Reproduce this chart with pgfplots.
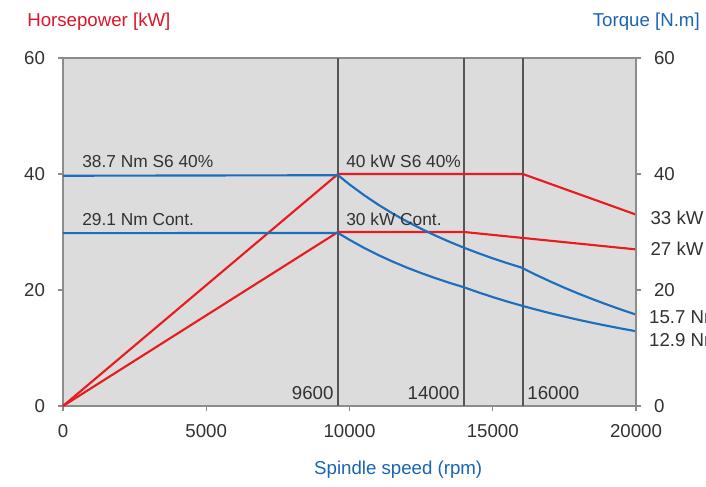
\documentclass[border=0pt]{standalone}
\usepackage{pgfplots}
\pgfplotsset{compat=1.18}
\usepackage{fontspec}
\setmainfont{Liberation Sans}
\definecolor{pred}{RGB}{232,28,30}
\definecolor{tblue}{RGB}{30,110,190}
\definecolor{ttlred}{RGB}{222,20,40}
\definecolor{ttlblue}{RGB}{25,100,180}
\definecolor{bggray}{RGB}{220,220,220}
\definecolor{axgray}{RGB}{140,140,140}
\definecolor{vline}{RGB}{85,85,85}
\definecolor{txt}{RGB}{50,50,50}
\begin{document}
\begin{tikzpicture}[font=\fontsize{14}{16}\selectfont]
\pgfplotsset{
  common/.style={
    at={(0,0)}, anchor=south west,
    scale only axis, width=429.75pt, height=261pt,
    xmin=0, xmax=20000, ymin=0, ymax=60,
    ytick={0,20,40,60},
    tick align=outside,
    major tick length=4pt,
    tick style={axgray, line width=0.8pt},
    /pgf/number format/assume math mode=true,
    /pgf/number format/1000 sep={},
    ticklabel style={txt},
    clip=false,
  }
}
\begin{axis}[common,
  axis line style={axgray, line width=0.8pt},
  axis background/.style={fill=bggray},
  xtick={0,5000,10000,15000,20000},
  xtick pos=bottom, ytick pos=left,
  scaled x ticks=false,
  xticklabel style={yshift=-6pt},
  yticklabel style={xshift=-6pt},
]
% vertical reference lines
\addplot[vline, line width=1pt] coordinates {(9600,0) (9600,60)};
\addplot[vline, line width=1pt] coordinates {(14000,0) (14000,60)};
\addplot[vline, line width=1pt] coordinates {(16050,0) (16050,60)};
% power curves
\addplot[pred, line width=1.6pt] coordinates {(0,0) (9600,40) (16050,40) (20000,33)};
\addplot[pred, line width=1.6pt] coordinates {(0,0) (9600,30) (14000,30) (16000,29) (20000,27)};
% torque curves
\addplot[tblue, line width=1.6pt] coordinates {
(0,39.7) (9600,39.79) (10000,38.20) (10500,36.38) (11000,34.72) (11500,33.21)
(12000,31.83) (12500,30.56) (13000,29.38) (13500,28.29) (14000,27.28)
(14500,26.34) (15000,25.46) (15500,24.64) (16000,23.87) (16500,22.64)
(17000,21.49) (17500,20.39) (18000,19.36) (18500,18.39) (19000,17.47)
(19500,16.59) (20000,15.76)};
\addplot[tblue, line width=1.6pt] coordinates {
(0,29.8) (9600,29.84) (10000,28.65) (10500,27.28) (11000,26.04) (11500,24.91)
(12000,23.87) (12500,22.92) (13000,22.04) (13500,21.22) (14000,20.46)
(14500,19.59) (15000,18.78) (15500,18.02) (16000,17.31) (16500,16.64)
(17000,16.01) (17500,15.42) (18000,14.85) (18500,14.32) (19000,13.82)
(19500,13.34) (20000,12.89)};
% annotations
\node[txt, anchor=west, font=\fontsize{13}{15}\selectfont, inner sep=0pt] at (axis cs:663,42.2) {38.7 Nm S6 40\%};
\node[txt, anchor=west, font=\fontsize{13}{15}\selectfont, inner sep=0pt] at (axis cs:663,32.2) {29.1 Nm Cont.};
\node[txt, anchor=west, font=\fontsize{13}{15}\selectfont, inner sep=0pt] at (axis cs:9878,42.2) {40 kW S6 40\%};
\node[txt, anchor=west, font=\fontsize{13}{15}\selectfont, inner sep=0pt] at (axis cs:9878,32.2) {30 kW Cont.};
\node[txt, anchor=east, inner sep=0pt] at (axis cs:9450,2.3) {9600};
\node[txt, anchor=east, inner sep=0pt] at (axis cs:13850,2.3) {14000};
\node[txt, anchor=west, inner sep=0pt] at (axis cs:16200,2.3) {16000};
\node[txt, anchor=west, inner sep=0pt] at (axis cs:20500,32.4) {33 kW};
\node[txt, anchor=west, inner sep=0pt] at (axis cs:20500,27.1) {27 kW};
\node[txt, anchor=west, inner sep=0pt] at (axis cs:20450,15.3) {15.7 Nm};
\node[txt, anchor=west, inner sep=0pt] at (axis cs:20450,11.4) {12.9 Nm};
\node[ttlred, anchor=west, inner sep=0pt] at (rel axis cs:-0.0628,1.103) {Horsepower [kW]};
\node[ttlblue, anchor=east, inner sep=0pt] at (rel axis cs:1.1117,1.103) {Torque [N.m]};
\node[ttlblue, anchor=center, inner sep=0pt] at (rel axis cs:0.585,-0.184) {Spindle speed (rpm)};
\end{axis}
\begin{axis}[common,
  axis x line=none,
  axis y line*=right,
  axis line style={axgray, line width=0.8pt},
  yticklabel style={xshift=6pt},
]
\end{axis}
\pgfresetboundingbox
\path (-47.25pt,-60pt) rectangle (482.25pt,304.5pt);
\end{tikzpicture}
\end{document}
